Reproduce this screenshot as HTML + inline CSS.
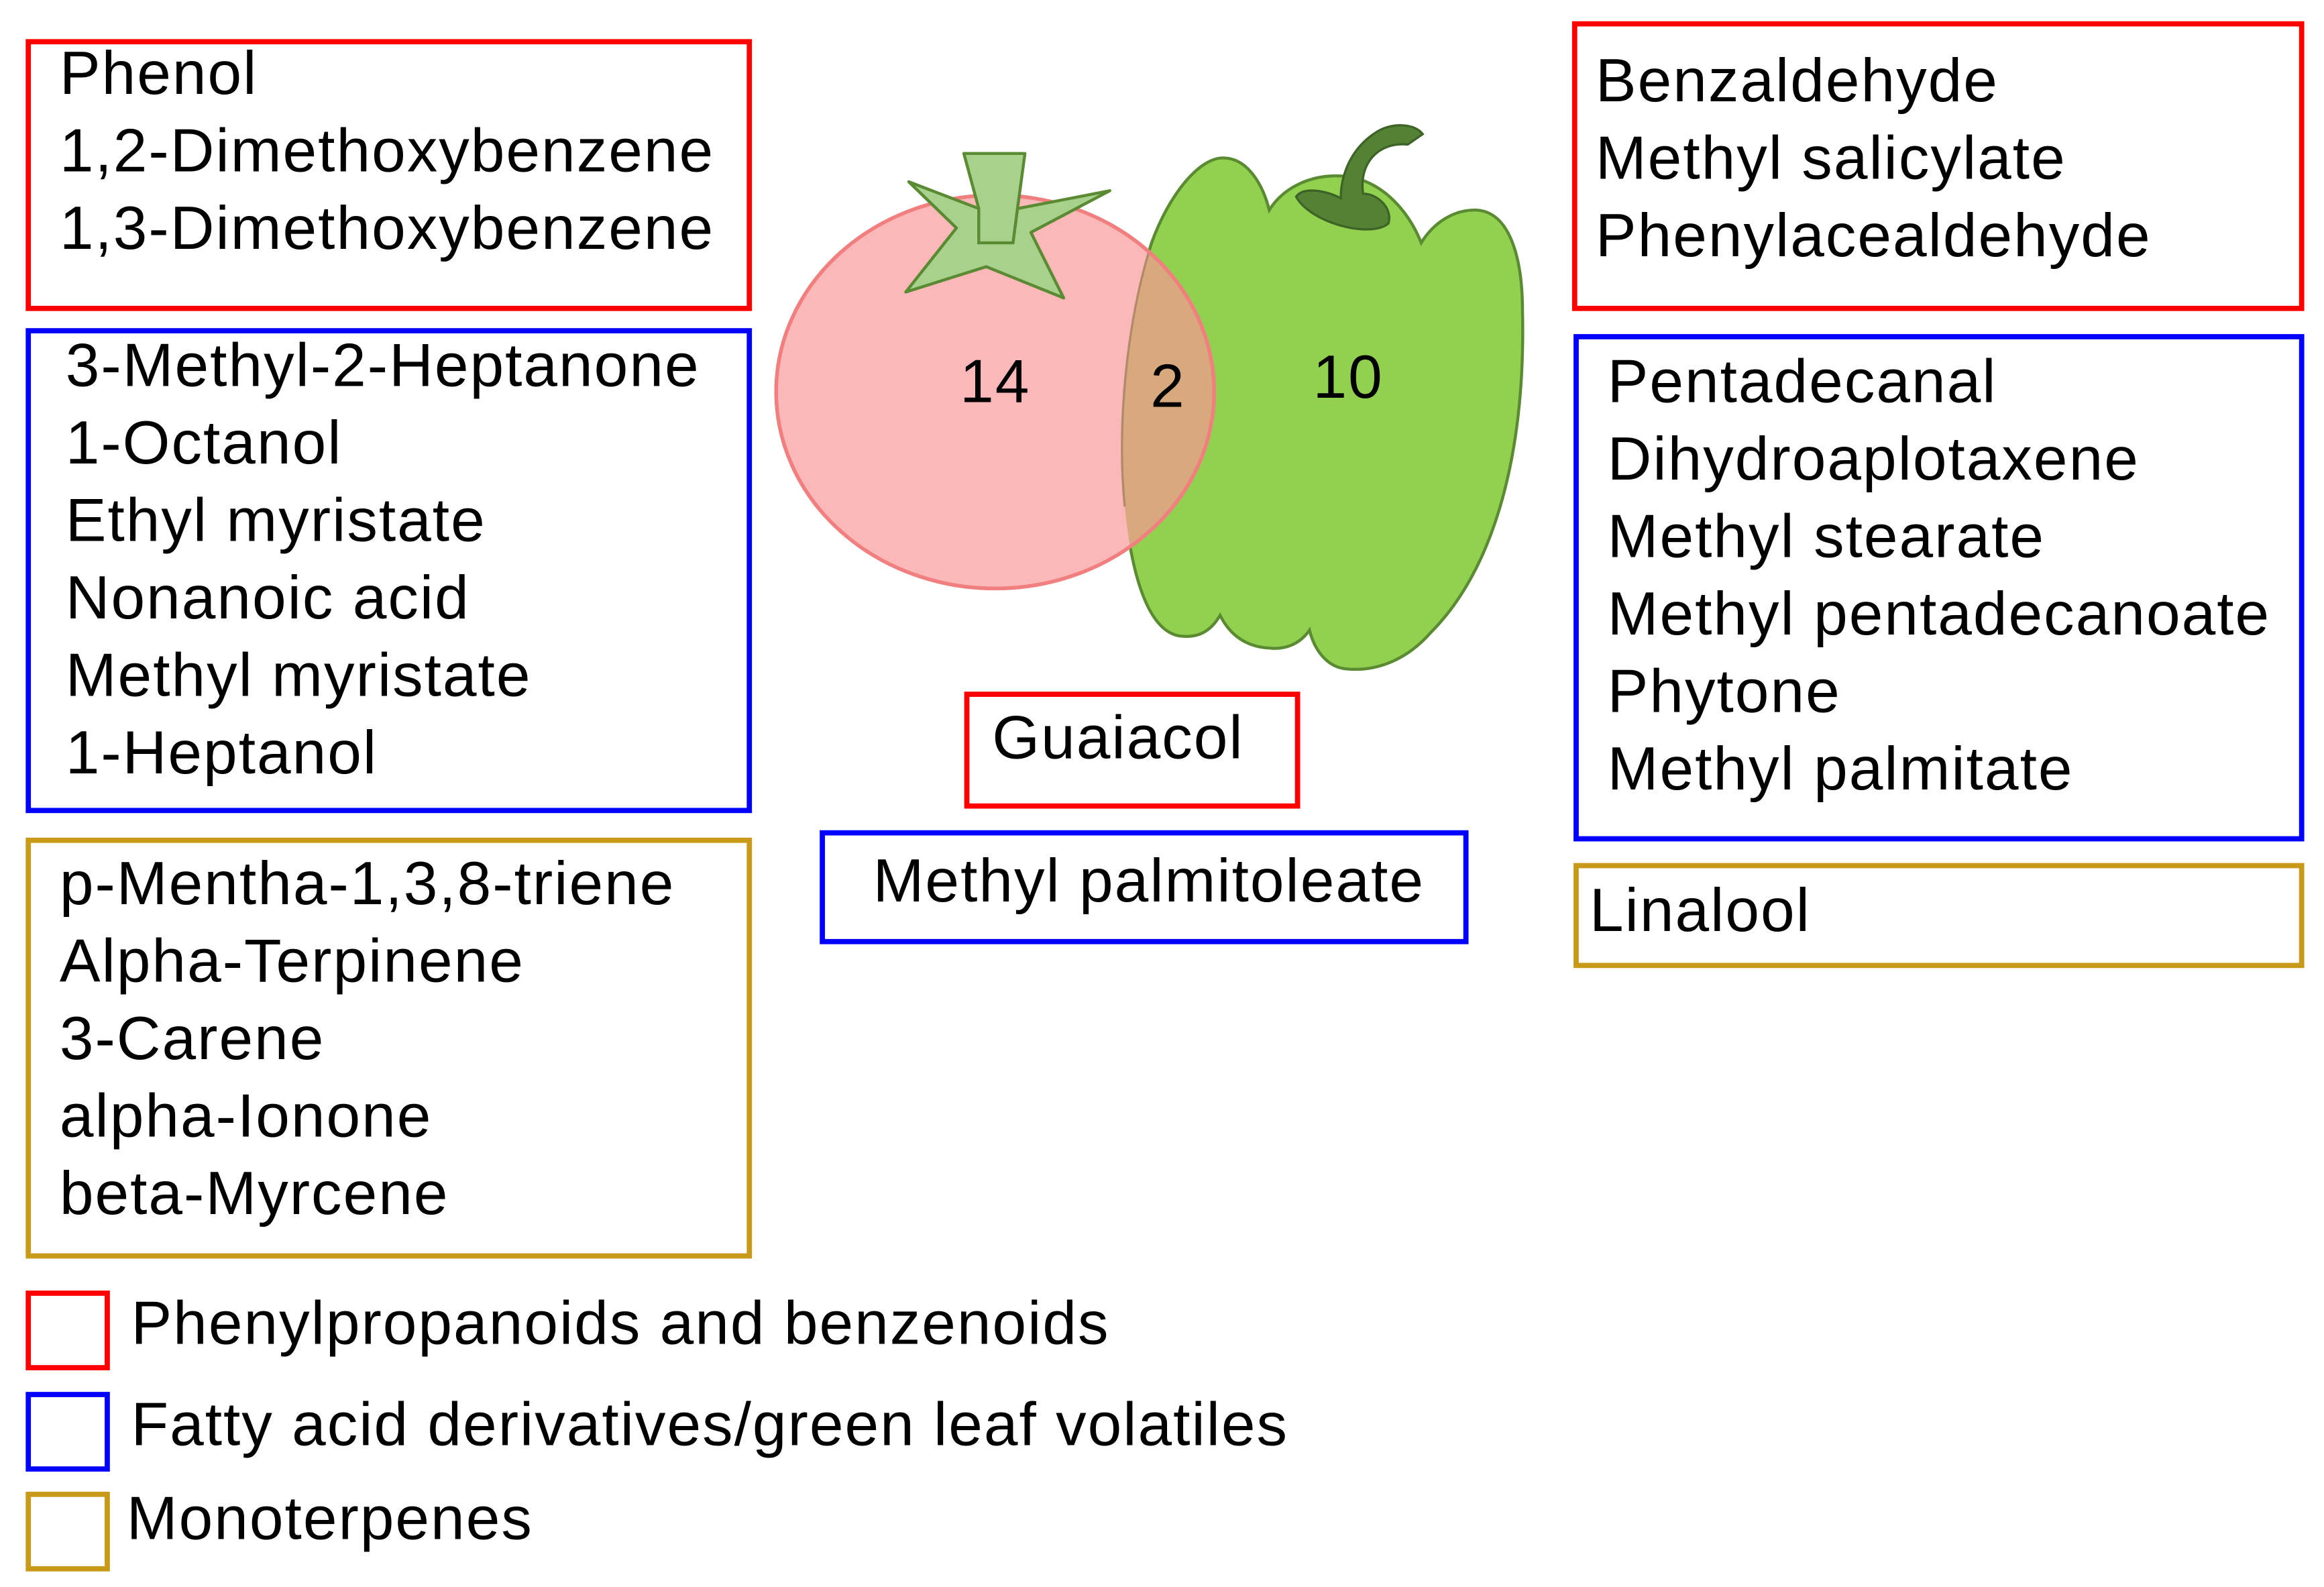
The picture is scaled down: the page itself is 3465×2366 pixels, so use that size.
<!DOCTYPE html>
<html><head><meta charset="utf-8"><style>
html,body{margin:0;padding:0;background:#fff;}
svg{display:block;}
text{font-family:"Liberation Sans",Arial,sans-serif;font-size:41px;letter-spacing:0.9px;fill:#000;}
</style></head><body>
<svg width="3465" height="2366" viewBox="0 0 1560 1065.2" xmlns="http://www.w3.org/2000/svg">
<defs>
<clipPath id="tc"><ellipse cx="668" cy="263" rx="147" ry="132"/></clipPath>
<path id="pep" d="M773,163 C785,130 805,106 821,106 C838,106 848,125 852,141 C862,125 880,118 897,118 C925,118 945,140 954,163 C962,150 975,141 990,141 C1012,141 1022,170 1022,209 C1024,300 1005,380 960,425 C945,442 925,451 904,449 C890,448 882,435 879,423 C872,433 862,436 852,435 C835,434 825,425 819,413 C812,425 803,428 793,427 C772,425 760,390 755,340 C750,290 755,220 773,163 Z"/>
</defs>
<g fill="none" stroke-width="3.5">
<rect x="19" y="28" width="484" height="179" stroke="#ff0000"/>
<rect x="19" y="222" width="484" height="322" stroke="#0000ff"/>
<rect x="19" y="564" width="484" height="279" stroke="#c99a1a"/>
<rect x="19" y="868" width="53" height="50" stroke="#ff0000"/>
<rect x="19" y="936" width="53" height="50" stroke="#0000ff"/>
<rect x="19" y="1003" width="53" height="50" stroke="#c99a1a"/>
<rect x="1057" y="16" width="488" height="191" stroke="#ff0000"/>
<rect x="1058" y="226" width="487" height="337" stroke="#0000ff"/>
<rect x="1058" y="581" width="487" height="67" stroke="#c99a1a"/>
<rect x="649" y="466" width="222" height="75" stroke="#ff0000"/>
<rect x="552" y="559" width="432" height="73" stroke="#0000ff"/>
</g>
<use href="#pep" fill="#92d050" stroke="#5a8a32" stroke-width="2"/>
<ellipse cx="668" cy="263" rx="147" ry="132" fill="#fbb8b8"/>
<use href="#pep" fill="#d9a97e" clip-path="url(#tc)"/>
<path d="M755,340 C750,290 755,220 773,163" fill="none" stroke="#b08a6a" stroke-width="1.5" clip-path="url(#tc)"/>
<ellipse cx="668" cy="263" rx="147" ry="132" fill="none" stroke="#f27f7f" stroke-width="2.5"/>
<path d="M870,132 C880,150 920,160 932,150 C935,140 925,130 915,130 C912,110 925,95 945,97 L955,90 C950,83 935,82 925,88 C905,100 900,120 900,133 C890,128 875,125 870,132 Z" fill="#548235" stroke="#3d6326" stroke-width="1.5"/>
<polygon points="647,103 688,103 683,140 745,128 692,156 714,200 662,179 608,196 642,153 610,122 657,140" fill="#a9d18e" stroke="#5a8a32" stroke-width="2" stroke-linejoin="round"/>
<polyline points="657,140 657,163 680,163 683,140" fill="none" stroke="#5a8a32" stroke-width="2"/>
<text x="668" y="270" text-anchor="middle" font-size="42">14</text>
<text x="784" y="273" text-anchor="middle" font-size="42">2</text>
<text x="905" y="267" text-anchor="middle" font-size="42">10</text>
<g>
<text x="40" y="63">Phenol</text>
<text x="40" y="115">1,2-Dimethoxybenzene</text>
<text x="40" y="167">1,3-Dimethoxybenzene</text>
<text x="44" y="259">3-Methyl-2-Heptanone</text>
<text x="44" y="311">1-Octanol</text>
<text x="44" y="363">Ethyl myristate</text>
<text x="44" y="415">Nonanoic acid</text>
<text x="44" y="467">Methyl myristate</text>
<text x="44" y="519">1-Heptanol</text>
<text x="40" y="607">p-Mentha-1,3,8-triene</text>
<text x="40" y="659">Alpha-Terpinene</text>
<text x="40" y="711">3-Carene</text>
<text x="40" y="763">alpha-Ionone</text>
<text x="40" y="815">beta-Myrcene</text>
<text x="88" y="902">Phenylpropanoids and benzenoids</text>
<text x="88" y="970">Fatty acid derivatives/green leaf volatiles</text>
<text x="85" y="1033">Monoterpenes</text>
<text x="1071" y="68">Benzaldehyde</text>
<text x="1071" y="120">Methyl salicylate</text>
<text x="1071" y="172">Phenylacealdehyde</text>
<text x="1079" y="270">Pentadecanal</text>
<text x="1079" y="322">Dihydroaplotaxene</text>
<text x="1079" y="374">Methyl stearate</text>
<text x="1079" y="426">Methyl pentadecanoate</text>
<text x="1079" y="478">Phytone</text>
<text x="1079" y="530">Methyl palmitate</text>
<text x="1067" y="625">Linalool</text>
<text x="666" y="509">Guaiacol</text>
<text x="586" y="605">Methyl palmitoleate</text>
</g>
</svg>
</body></html>
